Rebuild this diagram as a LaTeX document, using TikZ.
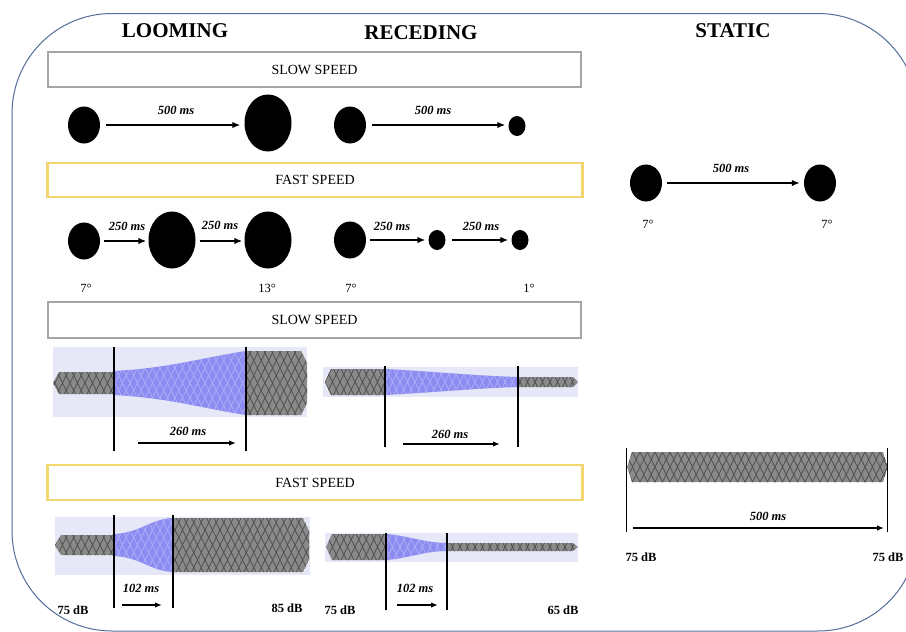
\documentclass[tikz,border=0pt]{standalone}
\usepackage{fontspec}
\setmainfont{Liberation Serif}
\usetikzlibrary{arrows.meta,shapes.geometric}
\definecolor{frameblue}{RGB}{84,110,155}
\definecolor{boxgray}{RGB}{165,165,165}
\definecolor{boxyellow}{RGB}{244,214,110}
\definecolor{bglav}{RGB}{230,232,248}
\definecolor{wgray}{RGB}{138,138,138}
\definecolor{wdark}{RGB}{80,80,80}
\definecolor{wblue}{RGB}{140,140,240}
\definecolor{wbluel}{RGB}{172,172,252}
\newcommand\wavepart[4]{%
  \begin{scope}
    \clip #1;
    \fill[#2] #1;
    \foreach \a in {-40,-32.5,...,910}{%
      \draw[#3,line width=0.7pt] (\a,#4-40) -- (\a+40,#4+40) (\a+40,#4-40) -- (\a,#4+40);}
  \end{scope}}
\tikzset{
  frame/.style={draw=frameblue, line width=1pt},
  graybox/.style={draw=boxgray, line width=2.2pt, minimum width=533pt, minimum height=35pt, font=\fontsize{14}{14}\selectfont},
  yellowbox/.style={draw=boxyellow, line width=2.6pt, minimum width=535pt, minimum height=34pt, font=\fontsize{14}{14}\selectfont},
  ball/.style={ellipse, fill=black, inner sep=0pt},
  arr/.style={-{Latex[length=8pt,width=6.5pt]}, line width=1.5pt},
  tarr/.style={-{Latex[length=7pt,width=5.5pt]}, line width=1.4pt},
  mslab/.style={font=\bfseries\itshape\fontsize{12.5}{12.5}\selectfont},
  deglab/.style={font=\fontsize{12.5}{12.5}\selectfont},
  dblab/.style={font=\bfseries\fontsize{12.5}{12.5}\selectfont},
  head/.style={font=\bfseries\fontsize{21}{21}\selectfont},
  vline/.style={line width=1.3pt},
  bg/.style={fill=bglav}
}
\begin{document}
\begin{tikzpicture}[x=1pt,y=-1pt]
\useasboundingbox (0,0) rectangle (906,632);
\clip (0,0) rectangle (906,632);
\fill[white] (0,0) rectangle (906,632);
\draw[frame, rounded corners=100pt] (12,13.5) rectangle (918,631);

% headers
\node[head] (hl) at (175,31) {LOOMING};
\node[head] (hr) at (421,33) {RECEDING};
\node[head] (hs) at (733,31) {STATIC};

% boxes
\node[graybox] (slow1) at (314.5,69.5) {SLOW SPEED};
\node[yellowbox] (fast1) at (315,180) {FAST SPEED};
\node[graybox, minimum height=36pt] (slow2) at (314.5,320) {SLOW SPEED};
\node[yellowbox, minimum height=35pt] (fast2) at (315,482.5) {FAST SPEED};

% row 1 slow
\node[ball, minimum width=32pt, minimum height=37pt] (a1) at (84,125) {};
\node[ball, minimum width=47pt, minimum height=57pt] (a2) at (268,123) {};
\draw[arr] ([xshift=6pt]a1.east) -- ([xshift=-4pt]a2.west |- a1.east);
\node[mslab] (ta1) at (176,110) {500 ms};
\node[ball, minimum width=32pt, minimum height=37pt] (b1) at (350,125) {};
\node[ball, minimum width=17pt, minimum height=20pt] (b2) at (517,126) {};
\draw[arr] ([xshift=6pt]b1.east) -- ([xshift=-3pt]b2.west |- b1.east);
\node[mslab] (tb1) at (433,110) {500 ms};

% row 2 fast
\node[ball, minimum width=32pt, minimum height=37pt] (c1) at (84,241) {};
\node[ball, minimum width=47pt, minimum height=57pt] (c2) at (172,240) {};
\node[ball, minimum width=47pt, minimum height=57pt] (c3) at (268,240) {};
\draw[arr] ([xshift=4pt]c1.east) -- ([xshift=-2pt]c2.west |- c1.east);
\draw[arr] ([xshift=4pt]c2.east |- c1.east) -- ([xshift=-2pt]c3.west |- c1.east);
\node[mslab] (tc1) at (127,226) {250 ms};
\node[mslab] (tc2) at (220,225) {250 ms};
\node[ball, minimum width=32pt, minimum height=37pt] (d1) at (350,240) {};
\node[ball, minimum width=17pt, minimum height=20pt] (d2) at (437,240) {};
\node[ball, minimum width=17pt, minimum height=20pt] (d3) at (520,240) {};
\draw[arr] ([xshift=4pt]d1.east |- d2.east) -- ([xshift=-3pt]d2.west);
\draw[arr] ([xshift=6pt]d2.east) -- ([xshift=-3pt]d3.west);
\node[mslab] (td1) at (392,226) {250 ms};
\node[mslab] (td2) at (481,226) {250 ms};
\node[deglab] (g1) at (86,288) {7°};
\node[deglab] (g2) at (267,288) {13°};
\node[deglab] (g3) at (351,288) {7°};
\node[deglab] (g4) at (529,288) {1°};

% static visual
\node[ball, minimum width=32pt, minimum height=37pt] (s1) at (646,183) {};
\node[ball, minimum width=32pt, minimum height=37pt] (s2) at (820,183) {};
\draw[arr] ([xshift=5pt]s1.east) -- ([xshift=-4pt]s2.west);
\node[mslab] (ts1) at (731,168) {500 ms};
\node[deglab] (g5) at (648,224) {7°};
\node[deglab] (g6) at (827,224) {7°};

% ---- looming slow waveform
\fill[bg] (53,347) rectangle (307,417);
\wavepart{(53,383) -- (59,372) -- (114,372) -- (114,394) -- (59,394) -- cycle}{wgray}{wdark}{383}
\wavepart{(114,371) .. controls (170,368) and (200,358) .. (246,351) -- (246,415) .. controls (200,408) and (170,398) .. (114,395) -- cycle}{wblue}{wbluel}{383}
\wavepart{(246,351) -- (301,351) -- (307,363) -- (307,403) -- (301,415) -- (246,415) -- cycle}{wgray}{wdark}{383}
\draw[vline] (114,347) -- (114,451);
\draw[vline] (246,347) -- (246,451);
\coordinate (ls1) at (138,443);
\coordinate (ls2) at (236,443);
\draw[tarr] (ls1) -- (ls2);
\node[mslab] (tls) at (188,431) {260 ms};

% ---- receding slow waveform
\fill[bg] (323,367) rectangle (578,397);
\wavepart{(325,382) -- (331,369) -- (385,369) -- (385,395) -- (331,395) -- cycle}{wgray}{wdark}{382}
\wavepart{(385,369) .. controls (440,372) and (480,376) .. (518,377) -- (518,387) .. controls (480,388) and (440,392) .. (385,395) -- cycle}{wblue}{wbluel}{382}
\wavepart{(518,377) -- (573,377) -- (578,382) -- (573,387) -- (518,387) -- cycle}{wgray}{wdark}{382}
\draw[vline] (385,366) -- (385,447);
\draw[vline] (518,366) -- (518,447);
\coordinate (rs1) at (403,444);
\coordinate (rs2) at (500,444);
\draw[tarr] (rs1) -- (rs2);
\node[mslab] (trs) at (450,434) {260 ms};

% ---- looming fast waveform
\fill[bg] (55,517) rectangle (310,575);
\wavepart{(55,545) -- (61,535) -- (114,535) -- (114,555) -- (61,555) -- cycle}{wgray}{wdark}{545}
\wavepart{(114,534) .. controls (140,533) and (150,519) .. (173,518) -- (173,572) .. controls (150,571) and (140,557) .. (114,556) -- cycle}{wblue}{wbluel}{545}
\wavepart{(173,518) -- (303,518) -- (309,530) -- (309,560) -- (303,572) -- (173,572) -- cycle}{wgray}{wdark}{545}
\draw[vline] (114,515) -- (114,608);
\draw[vline] (173,515) -- (173,608);
\coordinate (lf1) at (122,605);
\coordinate (lf2) at (162,605);
\draw[tarr] (lf1) -- (lf2);
\node[mslab] (tlf) at (141,588) {102 ms};
\node[dblab] (db1) at (73,610) {75 dB};
\node[dblab] (db2) at (287,608) {85 dB};

% ---- receding fast waveform
\fill[bg] (325,533) rectangle (578,562);
\wavepart{(326,547) -- (332,534) -- (386,534) -- (386,560) -- (332,560) -- cycle}{wgray}{wdark}{547}
\wavepart{(386,534) .. controls (410,536) and (425,543) .. (447,543) -- (447,551) .. controls (425,551) and (410,558) .. (386,560) -- cycle}{wblue}{wbluel}{547}
\wavepart{(447,543) -- (573,543) -- (578,547) -- (573,551) -- (447,551) -- cycle}{wgray}{wdark}{547}
\draw[vline] (386,533) -- (386,610);
\draw[vline] (447,533) -- (447,610);
\coordinate (rf1) at (397,605);
\coordinate (rf2) at (438,605);
\draw[tarr] (rf1) -- (rf2);
\node[mslab] (trf) at (415,588) {102 ms};
\node[dblab] (db3) at (340,610) {75 dB};
\node[dblab] (db4) at (563,610) {65 dB};

% ---- static waveform
\wavepart{(627,467) -- (632,452) -- (883,452) -- (888,467) -- (883,482) -- (632,482) -- cycle}{wgray}{wdark}{467}
\draw[line width=1pt] (626,448) -- (626,532);
\draw[line width=1pt] (887,448) -- (887,532);
\coordinate (st1) at (633,528);
\coordinate (st2) at (884,528);
\draw[tarr] (st1) -- (st2);
\node[mslab] (tst) at (768,516) {500 ms};
\node[dblab] (db5) at (641,557) {75 dB};
\node[dblab] (db6) at (888,557) {75 dB};
\end{tikzpicture}
\end{document}
